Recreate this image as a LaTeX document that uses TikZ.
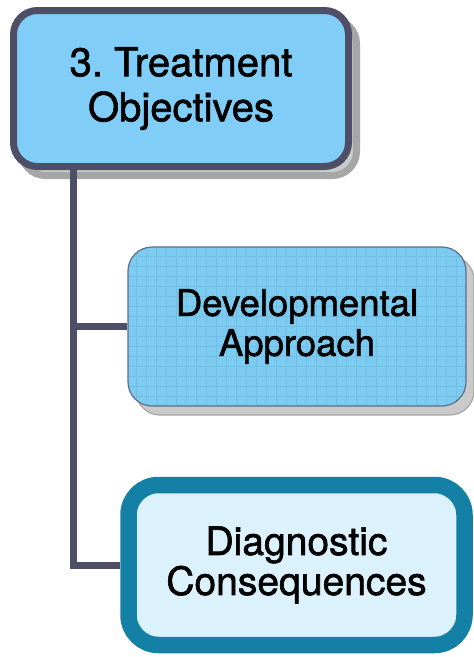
\documentclass[tikz,border=0pt]{standalone}
\usepackage{fontspec}
\setmainfont{TeX Gyre Heros}[FakeBold=1.5]
\usetikzlibrary{shadows}
\definecolor{topfill}{HTML}{80CEF7}
\definecolor{topdraw}{HTML}{4E4E66}
\definecolor{devfill}{HTML}{7DCBF1}
\definecolor{devdraw}{HTML}{5C6F86}
\definecolor{diagfill}{HTML}{DBF1FC}
\definecolor{diagdraw}{HTML}{1580A6}
\definecolor{shadowc}{HTML}{CACACA}
\definecolor{gridc}{HTML}{72BFE4}
\tikzset{
  boxshadow/.style={drop shadow={shadow xshift=8pt, shadow yshift=-9pt, fill=shadowc, draw=gray!70, opacity=1}},
  topbox/.style={draw=topdraw, line width=7pt, fill=topfill, rounded corners=24pt,
    minimum width=335pt, minimum height=156pt, inner sep=0pt, align=center,
    font=\fontsize{40}{45}\selectfont\frenchspacing, boxshadow},
  devbox/.style={draw=devdraw, line width=1.2pt, fill=devfill, rounded corners=24pt,
    minimum width=338pt, minimum height=159pt, inner sep=0pt, align=center,
    font=\fontsize{36.5}{40}\selectfont, boxshadow,
    path picture={\draw[gridc, line width=0.4pt] (path picture bounding box.south west) grid[step=10pt] (path picture bounding box.north east);}},
  diagbox/.style={draw=diagdraw, line width=16.5pt, fill=diagfill, rounded corners=30pt,
    minimum width=336pt, minimum height=160pt, inner sep=0pt, align=center,
    font=\fontsize{39}{40}\selectfont,
    drop shadow={shadow xshift=4pt, shadow yshift=-5pt, fill=shadowc, opacity=1}},
  conn/.style={draw=topdraw, line width=7pt}
}
\begin{document}
\begin{tikzpicture}[x=1pt,y=-1pt]
\useasboundingbox (0,0) rectangle (474,657);
\node[topbox] (top) at (181,88.5) {3. Treatment\\Objectives};
\node[devbox] (dev) at (297,326.5) {Developmental\\Approach};
\node[diagbox] (diag) at (296.5,565) {Diagnostic\\Consequences};
\coordinate (spinex) at (73.5,0);
\draw[conn] (top.south -| spinex) |- (diag.west);
\draw[conn] (spinex |- dev.west) -- (dev.west);
\end{tikzpicture}
\end{document}
